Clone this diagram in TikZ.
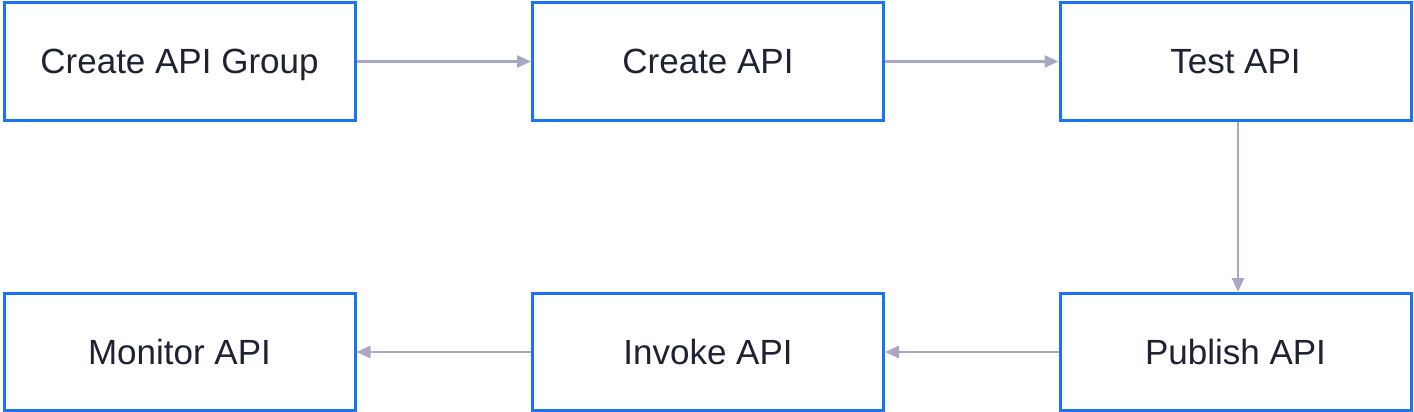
\documentclass[tikz,border=0pt]{standalone}
\usepackage{fontspec}
\setmainfont{Liberation Sans}
\usepackage{tikz}
\usetikzlibrary{arrows.meta}
\definecolor{boxblue}{HTML}{1A73F0}
\definecolor{linegray}{HTML}{A7A9C4}
\definecolor{textnavy}{HTML}{1F2233}
\begin{document}
\begin{tikzpicture}[x=1pt,y=-1pt,
  stepbox/.style={draw=boxblue,line width=3pt,fill=white,minimum width=351pt,minimum height=117pt,inner sep=0pt,text height=25pt,text depth=0pt,text=textnavy,font=\fontsize{35}{42}\selectfont},
  flow/.style={draw=linegray,line width=2.8pt,-{Triangle[length=14pt,width=12pt]}}]
\useasboundingbox (0,0) rectangle (1414,412);
\node[stepbox] (group) at (179.5,61.5) {Create API Group};
\node[stepbox] (create) at (708,61.5) {Create API};
\node[stepbox] (test) at (1235.5,61.5) {Test API};
\node[stepbox] (publish) at (1235.5,352) {Publish API};
\node[stepbox] (invoke) at (708,352) {Invoke API};
\node[stepbox] (monitor) at (179.5,352) {Monitor API};
\draw[flow] (group) -- (create);
\draw[flow] (create) -- (test);
\draw[flow] (test.south -| 1238,0) -- (publish.north -| 1238,0);
\draw[flow] (publish) -- (invoke);
\draw[flow] (invoke) -- (monitor);
\end{tikzpicture}
\end{document}
